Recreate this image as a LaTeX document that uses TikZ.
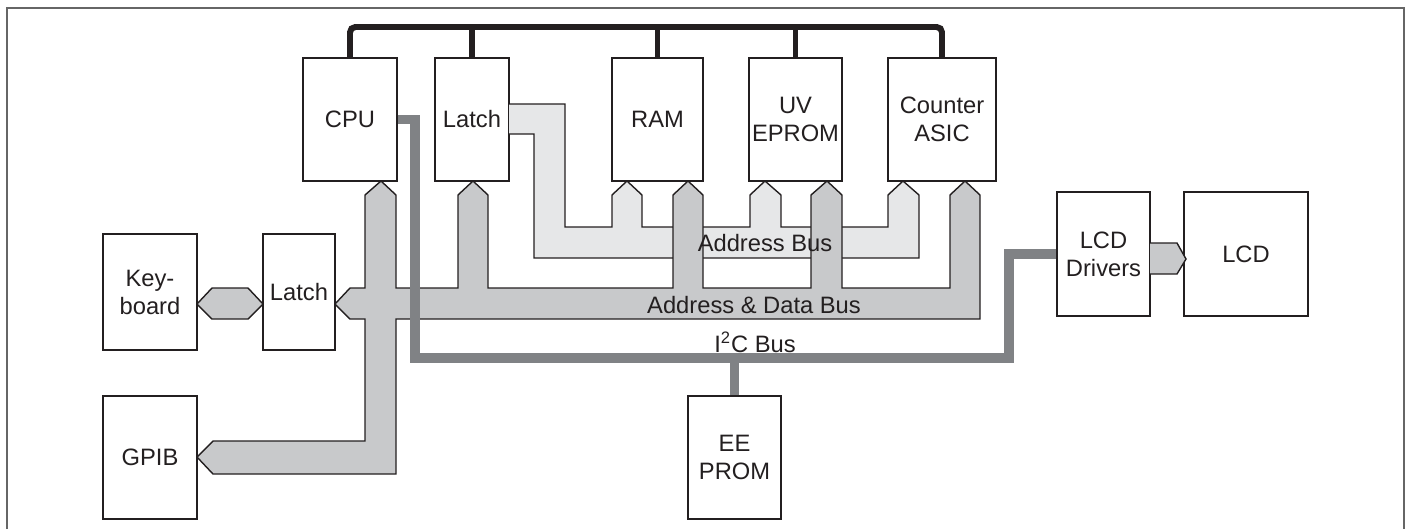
\documentclass[tikz,border=0pt]{standalone}
\usepackage{fontspec}
\setmainfont{Liberation Sans}
\usepackage{tikz}
\usepackage{xcolor}
\usetikzlibrary{positioning, calc}

\definecolor{ink}{HTML}{231F20}
\definecolor{busdark}{HTML}{C8C9CB}
\definecolor{buslight}{HTML}{E6E7E8}
\definecolor{iicgray}{HTML}{808285}

\begin{document}
\begin{tikzpicture}[
    x=0.02cm, y=-0.02cm,
    font=\fontsize{13.5}{16}\selectfont,
    box/.style={draw=ink, line width=0.85pt, rectangle, inner sep=0pt, align=center, fill=white, text=ink},
    tall/.style={box, minimum height=2.46cm},
    short/.style={box, minimum height=2.32cm},
    ctrlbus/.style={draw=ink, line width=3.4pt},
    abus/.style={draw=ink, line width=0.8pt, line join=miter, fill=buslight},
    adbus/.style={draw=ink, line width=0.8pt, line join=miter, fill=busdark},
    iic/.style={draw=iicgray, line width=5.6pt, line join=miter},
    buslabel/.style={text=ink, inner sep=0pt}
]
\useasboundingbox (0,0) rectangle (1406,529);
\draw[black!60, line width=1pt] (7,529) -- (7,8) -- (1404,8) -- (1404,529);

\node[tall, minimum width=1.88cm] (cpu) at (350,119.5) {CPU};
\node[tall, minimum width=1.48cm] (latch) at (472,119.5) {Latch};
\node[tall, minimum width=1.82cm] (ram) at (657.5,119.5) {RAM};
\node[tall, minimum width=1.86cm] (eprom) at (795.5,119.5) {UV\\EPROM};
\node[tall, minimum width=2.16cm] (asic) at (942,119.5) {Counter\\ASIC};
\node[short, minimum width=1.88cm] (kbd) at (150,292) {Key-\\board};
\node[short, minimum width=1.44cm] (latchb) at (299,292) {Latch};
\node[tall, minimum width=1.88cm] (gpib) at (150,457.5) {GPIB};
\node[tall, minimum width=1.86cm] (eeprom) at (734.5,457.5) {EE\\PROM};
\node[box, minimum width=1.86cm, minimum height=2.48cm] (lcddrv) at (1103.5,254) {LCD\\Drivers};
\node[box, minimum width=2.48cm, minimum height=2.48cm] (lcd) at (1246,254) {LCD};

\coordinate (ctltop) at (0,27);
\draw[ctrlbus, rounded corners=3pt] (cpu.north) |- (ctltop -| asic.north) -- (asic.north);
\draw[ctrlbus] (latch.north) -- (latch.north |- ctltop);
\draw[ctrlbus] (ram.north) -- (ram.north |- ctltop);
\draw[ctrlbus] (eprom.north) -- (eprom.north |- ctltop);

\draw[abus] (509,104) -- (565,104) -- (565,227) -- (612,227) -- (612,195) -- (627,181) -- (642,195) -- (642,227)
    -- (750,227) -- (750,195) -- (765,181) -- (781,195) -- (781,227)
    -- (888,227) -- (888,195) -- (903,181) -- (919,195) -- (919,258) -- (534,258) -- (534,134) -- (509,134);

\draw[adbus] (335,304) -- (350,288) -- (365,288) -- (365,195) -- (381,181) -- (396,195) -- (396,288)
    -- (458,288) -- (458,195) -- (473,181) -- (488,195) -- (488,288)
    -- (673,288) -- (673,195) -- (688,181) -- (703,195) -- (703,288)
    -- (811,288) -- (811,195) -- (827,181) -- (842,195) -- (842,288)
    -- (950,288) -- (950,195) -- (965,181) -- (980,195) -- (980,319)
    -- (396,319) -- (396,474) -- (213,474) -- (197,457) -- (213,441) -- (365,441) -- (365,319) -- (350,319) -- cycle;

\draw[adbus] (197,304) -- (212,288) -- (248,288) -- (263,304) -- (248,319) -- (212,319) -- cycle;
\draw[adbus] (1150,243) -- (1177,243) -- (1186,259) -- (1177,274) -- (1150,274);

\draw[iic] (cpu.east) -| (415,358) -| (1009,254) -- (lcddrv.west);
\draw[iic] (eeprom.north) -- (eeprom.north |- 0,358);

\node[buslabel] (alabel) at (765,243) {Address Bus};
\node[buslabel] (adlabel) at (754,305) {Address \& Data Bus};
\node[buslabel] (iiclabel) at (755,342) {I\textsuperscript{2}C Bus};

\end{tikzpicture}
\end{document}
